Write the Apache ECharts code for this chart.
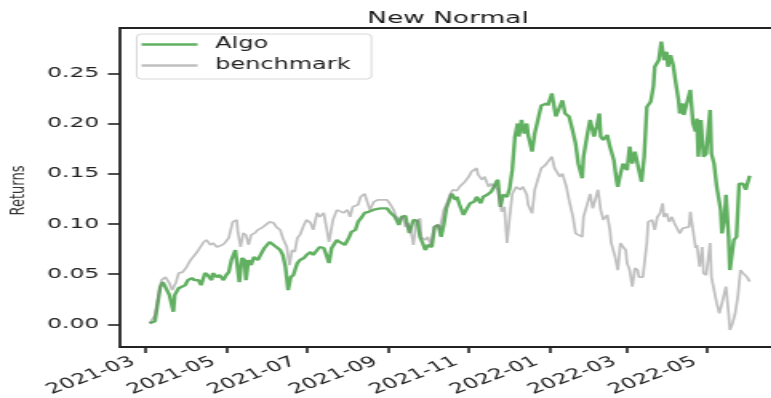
<!DOCTYPE html>
<html>
<head>
<meta charset="utf-8">
<script src="https://cdn.jsdelivr.net/npm/echarts@6/dist/echarts.min.js"></script>
<style>
html,body{margin:0;padding:0;background:#fff;overflow:hidden;}
#chart{width:482px;height:398px;transform:scaleX(1.6);transform-origin:0 0;}
</style>
</head>
<body>
<div id="chart"></div>
<script>
// ---- data ----
const algoDates = ['2021-03-04','2021-03-08','2021-03-12','2021-03-14','2021-03-16','2021-03-19','2021-03-21','2021-03-22','2021-03-23','2021-03-26','2021-03-28','2021-03-31','2021-04-02','2021-04-05','2021-04-07','2021-04-10','2021-04-12','2021-04-15','2021-04-17','2021-04-20','2021-04-21','2021-04-24','2021-04-26','2021-04-29','2021-05-01','2021-05-03','2021-05-05','2021-05-08','2021-05-09','2021-05-11','2021-05-13','2021-05-15','2021-05-16','2021-05-18','2021-05-20','2021-05-22','2021-05-25','2021-05-27','2021-05-30','2021-06-03','2021-06-06','2021-06-08','2021-06-11','2021-06-13','2021-06-15','2021-06-17','2021-06-19','2021-06-21','2021-06-24','2021-06-26','2021-06-29','2021-07-01','2021-07-04','2021-07-06','2021-07-09','2021-07-11','2021-07-14','2021-07-16','2021-07-18','2021-07-20','2021-07-24','2021-07-26','2021-07-30','2021-08-02','2021-08-04','2021-08-07','2021-08-09','2021-08-12','2021-08-14','2021-08-17','2021-08-19','2021-08-22','2021-08-26','2021-08-31','2021-09-02','2021-09-06','2021-09-09','2021-09-11','2021-09-14','2021-09-15','2021-09-17','2021-09-20','2021-09-23','2021-09-25','2021-09-27','2021-09-29','2021-10-01','2021-10-04','2021-10-06','2021-10-09','2021-10-11','2021-10-13','2021-10-15','2021-10-17','2021-10-19','2021-10-22','2021-10-23','2021-10-25','2021-10-28','2021-10-30','2021-11-02','2021-11-05','2021-11-07','2021-11-10','2021-11-12','2021-11-15','2021-11-18','2021-11-22','2021-11-23','2021-11-25','2021-11-27','2021-11-30','2021-12-02','2021-12-04','2021-12-06','2021-12-08','2021-12-09','2021-12-11','2021-12-13','2021-12-15','2021-12-16','2021-12-19','2021-12-21','2021-12-24','2021-12-26','2021-12-30','2021-12-31','2022-01-03','2022-01-06','2022-01-08','2022-01-11','2022-01-13','2022-01-16','2022-01-18','2022-01-21','2022-01-23','2022-01-26','2022-01-27','2022-01-30','2022-02-01','2022-02-04','2022-02-06','2022-02-08','2022-02-09','2022-02-11','2022-02-14','2022-02-16','2022-02-19','2022-02-21','2022-02-22','2022-02-24','2022-02-26','2022-03-01','2022-03-03','2022-03-05','2022-03-07','2022-03-10','2022-03-12','2022-03-14','2022-03-16','2022-03-19','2022-03-21','2022-03-22','2022-03-25','2022-03-27','2022-03-29','2022-03-31','2022-04-01','2022-04-03','2022-04-05','2022-04-07','2022-04-09','2022-04-10','2022-04-12','2022-04-13','2022-04-15','2022-04-18','2022-04-20','2022-04-22','2022-04-23','2022-04-24','2022-04-26','2022-04-28','2022-04-30','2022-05-03','2022-05-04','2022-05-06','2022-05-08','2022-05-11','2022-05-12','2022-05-14','2022-05-15','2022-05-17','2022-05-18','2022-05-21','2022-05-23','2022-05-25','2022-05-28','2022-05-30','2022-06-02'];
const algoValues = [0.001,0.003,0.037,0.042,0.037,0.029,0.0275,0.0125,0.029,0.036,0.037,0.039,0.044,0.046,0.044,0.044,0.039,0.051,0.049,0.044,0.051,0.047,0.049,0.044,0.049,0.052,0.064,0.074,0.074,0.042,0.066,0.064,0.044,0.064,0.059,0.067,0.064,0.069,0.076,0.082,0.079,0.077,0.074,0.069,0.057,0.034,0.047,0.049,0.061,0.064,0.066,0.069,0.072,0.069,0.074,0.077,0.076,0.069,0.061,0.076,0.084,0.082,0.079,0.086,0.092,0.094,0.102,0.107,0.111,0.112,0.111,0.1145,0.1155,0.1155,0.112,0.107,0.099,0.107,0.108,0.101,0.091,0.104,0.103,0.087,0.081,0.074,0.079,0.077,0.097,0.099,0.087,0.099,0.1155,0.117,0.130,0.124,0.127,0.119,0.109,0.114,0.1205,0.122,0.127,0.1205,0.127,0.129,0.132,0.142,0.144,0.117,0.129,0.127,0.1355,0.154,0.187,0.200,0.187,0.2035,0.190,0.200,0.1885,0.172,0.190,0.207,0.218,0.220,0.218,0.230,0.207,0.2135,0.223,0.210,0.207,0.197,0.180,0.160,0.1455,0.167,0.190,0.2035,0.187,0.197,0.210,0.187,0.1835,0.1885,0.177,0.1635,0.1435,0.137,0.150,0.160,0.1535,0.177,0.160,0.172,0.1535,0.142,0.167,0.2165,0.222,0.237,0.2565,0.263,0.2815,0.263,0.2715,0.2565,0.268,0.258,0.240,0.2235,0.210,0.220,0.2085,0.210,0.2335,0.200,0.192,0.205,0.167,0.2035,0.167,0.170,0.2135,0.170,0.160,0.137,0.114,0.0905,0.107,0.129,0.087,0.054,0.084,0.087,0.140,0.140,0.134,0.148];

const benchDates = ['2021-03-04','2021-03-08','2021-03-11','2021-03-13','2021-03-16','2021-03-19','2021-03-21','2021-03-24','2021-03-26','2021-03-29','2021-04-01','2021-04-04','2021-04-06','2021-04-09','2021-04-11','2021-04-14','2021-04-16','2021-04-19','2021-04-21','2021-04-24','2021-04-28','2021-04-30','2021-05-03','2021-05-06','2021-05-09','2021-05-10','2021-05-12','2021-05-14','2021-05-16','2021-05-18','2021-05-20','2021-05-23','2021-05-25','2021-05-28','2021-05-31','2021-06-03','2021-06-06','2021-06-08','2021-06-11','2021-06-13','2021-06-16','2021-06-18','2021-06-20','2021-06-22','2021-06-24','2021-06-26','2021-06-29','2021-07-01','2021-07-04','2021-07-06','2021-07-09','2021-07-11','2021-07-14','2021-07-16','2021-07-18','2021-07-21','2021-07-24','2021-07-26','2021-07-29','2021-08-01','2021-08-03','2021-08-05','2021-08-09','2021-08-11','2021-08-14','2021-08-16','2021-08-18','2021-08-21','2021-08-24','2021-08-26','2021-08-31','2021-09-02','2021-09-05','2021-09-07','2021-09-10','2021-09-12','2021-09-14','2021-09-16','2021-09-19','2021-09-20','2021-09-22','2021-09-25','2021-09-26','2021-09-29','2021-10-01','2021-10-03','2021-10-06','2021-10-08','2021-10-10','2021-10-13','2021-10-15','2021-10-18','2021-10-20','2021-10-23','2021-10-25','2021-10-29','2021-11-01','2021-11-03','2021-11-07','2021-11-08','2021-11-11','2021-11-13','2021-11-16','2021-11-18','2021-11-21','2021-11-23','2021-11-26','2021-11-28','2021-11-30','2021-12-02','2021-12-04','2021-12-07','2021-12-10','2021-12-12','2021-12-15','2021-12-16','2021-12-19','2021-12-21','2021-12-24','2021-12-26','2021-12-29','2021-12-31','2022-01-03','2022-01-05','2022-01-07','2022-01-09','2022-01-11','2022-01-14','2022-01-16','2022-01-19','2022-01-21','2022-01-23','2022-01-26','2022-01-27','2022-01-30','2022-02-01','2022-02-03','2022-02-05','2022-02-07','2022-02-09','2022-02-11','2022-02-14','2022-02-16','2022-02-17','2022-02-20','2022-02-22','2022-02-24','2022-02-26','2022-02-28','2022-03-01','2022-03-03','2022-03-05','2022-03-07','2022-03-09','2022-03-10','2022-03-13','2022-03-16','2022-03-17','2022-03-20','2022-03-22','2022-03-24','2022-03-26','2022-03-28','2022-03-29','2022-03-31','2022-04-02','2022-04-04','2022-04-06','2022-04-08','2022-04-10','2022-04-12','2022-04-14','2022-04-17','2022-04-18','2022-04-20','2022-04-22','2022-04-23','2022-04-25','2022-04-27','2022-04-28','2022-04-30','2022-05-03','2022-05-04','2022-05-06','2022-05-08','2022-05-10','2022-05-12','2022-05-14','2022-05-15','2022-05-17','2022-05-18','2022-05-20','2022-05-22','2022-05-24','2022-05-26','2022-05-28','2022-05-31','2022-06-02'];
const benchValues = [0.001,0.009,0.031,0.044,0.047,0.041,0.034,0.042,0.051,0.052,0.057,0.064,0.063,0.072,0.071,0.082,0.084,0.079,0.081,0.077,0.079,0.081,0.086,0.102,0.104,0.091,0.077,0.091,0.089,0.079,0.089,0.091,0.094,0.096,0.099,0.102,0.101,0.097,0.094,0.086,0.077,0.059,0.074,0.072,0.086,0.089,0.099,0.104,0.101,0.094,0.111,0.107,0.111,0.097,0.082,0.104,0.114,0.1155,0.111,0.114,0.107,0.117,0.119,0.127,0.130,0.129,0.114,0.122,0.124,0.1255,0.124,0.1205,0.114,0.107,0.104,0.107,0.097,0.101,0.087,0.079,0.101,0.1055,0.087,0.084,0.087,0.079,0.097,0.099,0.094,0.114,0.119,0.130,0.134,0.133,0.137,0.142,0.147,0.152,0.1555,0.149,0.144,0.147,0.137,0.140,0.137,0.134,0.112,0.117,0.081,0.107,0.130,0.137,0.134,0.137,0.129,0.119,0.1105,0.134,0.147,0.1555,0.1585,0.157,0.167,0.1555,0.154,0.147,0.150,0.137,0.124,0.107,0.0905,0.089,0.087,0.107,0.1205,0.130,0.1155,0.1155,0.134,0.114,0.104,0.109,0.094,0.081,0.067,0.054,0.081,0.077,0.074,0.061,0.054,0.0375,0.056,0.054,0.047,0.047,0.081,0.102,0.104,0.094,0.107,0.1105,0.1205,0.107,0.1105,0.102,0.107,0.1005,0.102,0.0905,0.0955,0.094,0.097,0.112,0.094,0.076,0.079,0.0575,0.077,0.051,0.049,0.081,0.047,0.034,0.021,0.011,0.021,0.021,0.0375,0.011,-0.0057,0.001,0.011,0.0275,0.054,0.051,0.047,0.0425];

const xTickLabels = ['2021-03','2021-05','2021-07','2021-09','2021-11','2022-01','2022-03','2022-05'];
const yTickValues = [0.00, 0.05, 0.10, 0.15, 0.20, 0.25];
const seriesNames = ['Algo', 'benchmark'];
const titleText = 'New Normal';
const yAxisName = 'Returns';

// ---- helpers ----
function ts(s) {
  const p = s.split(/[-T:]/).map(Number);
  return Date.UTC(p[0], p[1] - 1, p[2] || 1, p[3] || 0, p[4] || 0);
}
const xMin = ts('2021-02-09T12:00');
const xMax = ts('2022-06-18T07:00');
const tickTs = xTickLabels.map(ts);
const pairs = (d, v) => d.map((s, i) => [ts(s), v[i]]);

const FONT = 'DejaVu Sans';
const INK = '#222';

const chart = echarts.init(document.getElementById('chart'), null, {renderer: 'canvas'});
chart.setOption({
  animation: false,
  backgroundColor: '#fff',
  title: {
    text: titleText,
    left: 280, top: 10, padding: 0,
    textAlign: 'center',
    textStyle: {fontFamily: FONT, fontSize: 16.5, fontWeight: 'normal', color: '#1a1a1a'}
  },
  legend: {
    data: seriesNames,
    orient: 'vertical',
    left: 85.5, top: 34,
    padding: [3, 13, 6, 3],
    itemWidth: 35, itemHeight: 2.5, itemGap: 6,
    icon: 'rect',
    borderColor: '#d8d8d8', borderWidth: 1, borderRadius: 3,
    backgroundColor: 'rgba(255,255,255,0.8)',
    textStyle: {fontFamily: FONT, fontSize: 15, color: INK, padding: [0, 0, 0, 6]}
  },
  grid: {left: 75, right: 0, top: 28, bottom: 51, containLabel: false, outerBoundsMode: 'none'},
  xAxis: [{
    type: 'value',
    min: xMin, max: xMax,
    splitLine: {show: false},
    axisLine: {show: true, onZero: false, lineStyle: {color: INK, width: 1.8}},
    axisTick: {show: true, length: 6, customValues: tickTs, lineStyle: {color: INK, width: 1.6}},
    axisLabel: {
      show: true, rotate: 30, margin: 9,
      padding: [0, 9, 0, 0],
      customValues: tickTs,
      fontFamily: FONT, fontSize: 14.6, color: INK,
      formatter: function (v) {
        let best = 0;
        for (let i = 1; i < tickTs.length; i++) {
          if (Math.abs(tickTs[i] - v) < Math.abs(tickTs[best] - v)) best = i;
        }
        return xTickLabels[best];
      }
    }
  }, {
    type: 'value', position: 'top', min: 0, max: 1,
    axisLine: {show: true, onZero: false, lineStyle: {color: INK, width: 1.8}},
    axisTick: {show: false}, axisLabel: {show: false}, splitLine: {show: false}
  }],
  yAxis: {
    type: 'value',
    min: -0.0226, max: 0.2951,
    name: yAxisName,
    nameLocation: 'middle',
    nameRotate: 90,
    nameGap: 56,
    nameTextStyle: {fontFamily: FONT, fontSize: 13, color: '#333', padding: [0, 6, 0, 0]},
    splitLine: {show: false},
    axisLine: {show: true, onZero: false, lineStyle: {color: INK, width: 1.8}},
    axisTick: {show: true, length: 7.5, customValues: yTickValues, lineStyle: {color: INK, width: 1.6}},
    axisLabel: {
      show: true, margin: 13, customValues: yTickValues,
      fontFamily: FONT, fontSize: 14.6, color: INK,
      formatter: v => v.toFixed(2)
    }
  },
  series: [{
    name: seriesNames[0],
    type: 'line',
    symbol: 'none',
    data: pairs(algoDates, algoValues),
    lineStyle: {color: 'rgba(0,128,0,0.62)', width: 2.4},
    itemStyle: {color: 'rgba(0,128,0,0.62)'},
    silent: true
  }, {
    name: seriesNames[1],
    type: 'line',
    symbol: 'none',
    data: pairs(benchDates, benchValues),
    lineStyle: {color: 'rgba(128,128,128,0.5)', width: 1.7},
    itemStyle: {color: 'rgba(128,128,128,0.5)'},
    silent: true
  }]
});
</script>
</body>
</html>
